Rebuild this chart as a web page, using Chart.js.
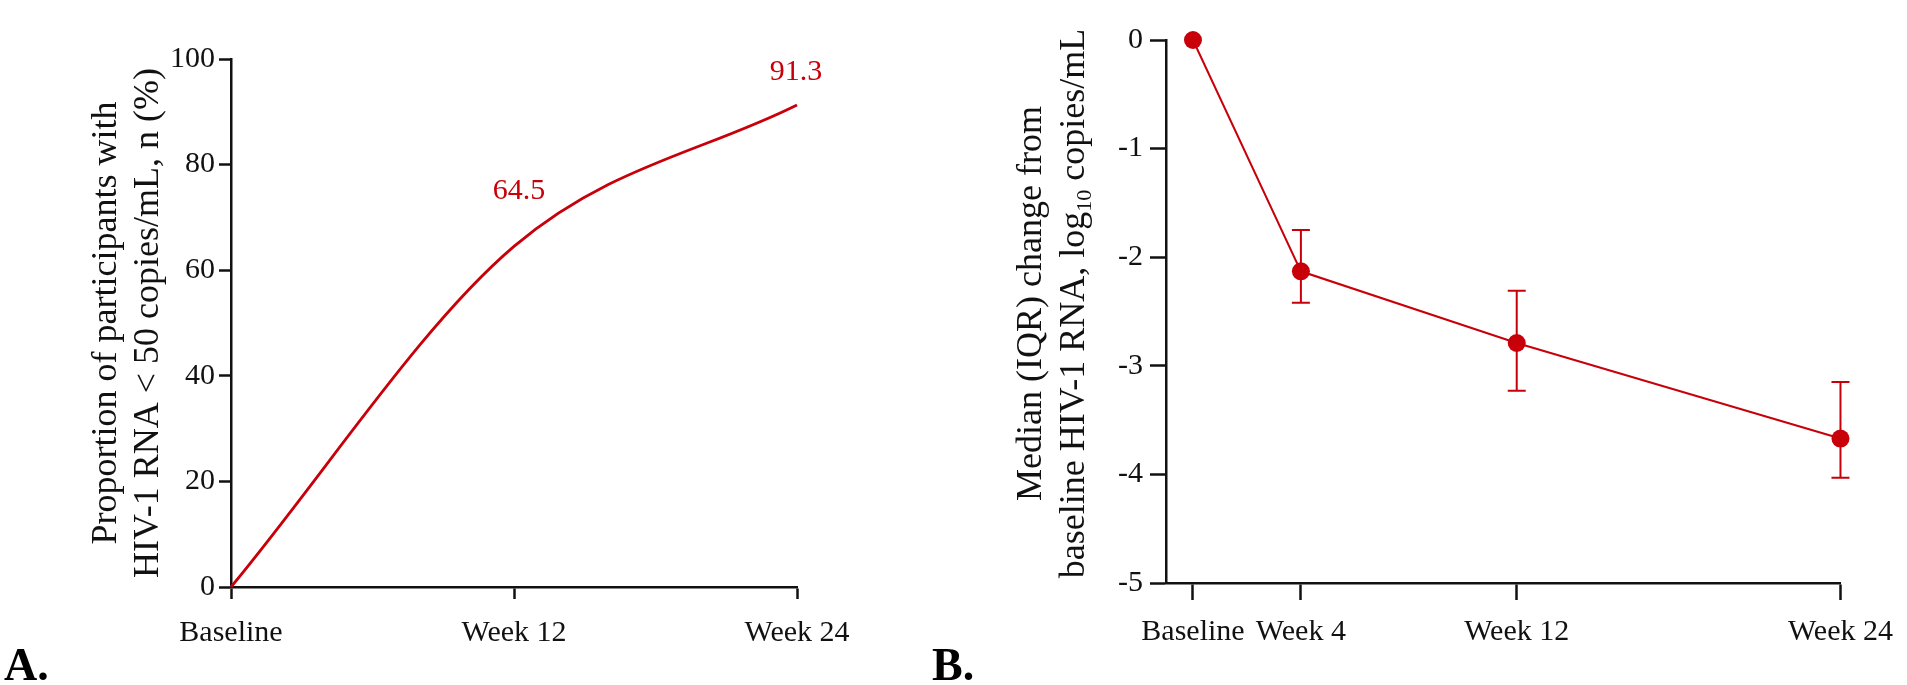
<!DOCTYPE html>
<html>
<head>
<meta charset="utf-8">
<script src="https://cdn.jsdelivr.net/npm/chart.js@4.4.1/dist/chart.umd.min.js"></script>
<style>
  html, body { margin: 0; padding: 0; background: #fff; }
  body { width: 1907px; height: 685px; position: relative; overflow: hidden; }
  .panel { position: absolute; top: 0; height: 685px; }
  #panelA { left: 0; width: 900px; }
  #panelB { left: 900px; width: 1007px; }
</style>
</head>
<body>
<div class="panel" id="panelA"><canvas id="chartA"></canvas></div>
<div class="panel" id="panelB"><canvas id="chartB"></canvas></div>
<script>
// A: proportion with HIV-1 RNA < 50 copies/mL
const weeksA = [0, 12, 24];
const weekLabelsA = ['Baseline', 'Week 12', 'Week 24'];
const suppressedPct = [0, 64.5, 91.3];
const yTicksA = [0, 20, 40, 60, 80, 100];

// B: median (IQR) change from baseline, log10 copies/mL
const weeksB = [0, 4, 12, 24];
const weekLabelsB = ['Baseline', 'Week 4', 'Week 12', 'Week 24'];
const medianChange = [0, -2.13, -2.79, -3.67];
const iqrLow = [0, -2.42, -3.23, -4.03];
const iqrHigh = [0, -1.75, -2.31, -3.15];
const yTicksB = [-5, -4, -3, -2, -1, 0];

const RED = '#c8000a';
const INK = '#111';
const SERIF = "'Liberation Serif', 'Times New Roman', serif";

// rotated two-line y title, with optional subscript parts
const yTitlePlugin = {
  id: 'yTitle',
  afterDraw(chart, args, opts) {
    const { ctx, chartArea } = chart;
    const cy = (chartArea.top + chartArea.bottom) / 2 + (opts.dy || 0);
    const big = `${opts.size}px ${SERIF}`;
    const small = `${Math.round(opts.size * 0.62)}px ${SERIF}`;
    ctx.save();
    ctx.fillStyle = INK;
    ctx.textBaseline = 'alphabetic';
    ctx.textAlign = 'left';
    opts.lines.forEach((parts, i) => {
      let total = 0;
      parts.forEach(p => { ctx.font = p.sub ? small : big; total += ctx.measureText(p.text).width; });
      ctx.save();
      ctx.translate(opts.x[i], cy);
      ctx.rotate(-Math.PI / 2);
      let x = -total / 2;
      parts.forEach(p => {
        ctx.font = p.sub ? small : big;
        ctx.fillText(p.text, x, p.sub ? opts.size * 0.2 : 0);
        x += ctx.measureText(p.text).width;
      });
      ctx.restore();
    });
    ctx.restore();
  }
};

const panelLetter = {
  id: 'panelLetter',
  afterDraw(chart, args, opts) {
    const { ctx } = chart;
    ctx.save();
    ctx.font = `bold 46px ${SERIF}`;
    ctx.fillStyle = '#000';
    ctx.textBaseline = 'alphabetic';
    ctx.fillText(opts.text, opts.x, opts.y);
    ctx.restore();
  }
};

const valueLabels = {
  id: 'valueLabels',
  afterDatasetsDraw(chart, args, opts) {
    if (!opts.offsets) return;
    const { ctx } = chart;
    const meta = chart.getDatasetMeta(0);
    ctx.save();
    ctx.font = `30px ${SERIF}`;
    ctx.fillStyle = RED;
    ctx.textAlign = 'center';
    ctx.textBaseline = 'middle';
    meta.data.forEach((pt, i) => {
      const off = opts.offsets[i];
      if (!off) return;
      ctx.fillText(String(chart.data.datasets[0].data[i].y), pt.x + off[0], pt.y + off[1]);
    });
    ctx.restore();
  }
};

const errorBars = {
  id: 'errorBars',
  beforeDatasetsDraw(chart, args, opts) {
    if (!opts.low) return;
    const { ctx } = chart;
    const xs = chart.scales.x, ys = chart.scales.y;
    ctx.save();
    ctx.strokeStyle = RED;
    ctx.lineWidth = 2;
    opts.weeks.forEach((w, i) => {
      if (opts.low[i] === opts.high[i]) return;
      const px = xs.getPixelForValue(w);
      const top = ys.getPixelForValue(opts.high[i]);
      const bot = ys.getPixelForValue(opts.low[i]);
      ctx.beginPath();
      ctx.moveTo(px, top); ctx.lineTo(px, bot);
      ctx.moveTo(px - opts.cap, top); ctx.lineTo(px + opts.cap, top);
      ctx.moveTo(px - opts.cap, bot); ctx.lineTo(px + opts.cap, bot);
      ctx.stroke();
    });
    ctx.restore();
  }
};

function xAxis(min, max, weeks, labels, tickLen, pad, height) {
  return {
    type: 'linear', min, max,
    afterBuildTicks: s => { s.ticks = weeks.map(v => ({ value: v })); },
    afterFit: s => { s.height = height; },
    grid: { drawOnChartArea: false, drawTicks: true, tickLength: tickLen, tickWidth: 2.5, tickColor: INK },
    border: { display: true, color: INK, width: 2.5 },
    ticks: {
      autoSkip: false, maxRotation: 0, padding: pad, color: INK,
      font: { family: SERIF, size: 30 },
      callback: v => labels[weeks.indexOf(v)] ?? ''
    }
  };
}

function yAxis(min, max, values, tickLen, pad, width) {
  return {
    type: 'linear', min, max,
    afterBuildTicks: s => { s.ticks = values.map(v => ({ value: v })); },
    afterFit: s => { s.width = width; },
    grid: { drawOnChartArea: false, drawTicks: true, tickLength: tickLen, tickWidth: 2.5, tickColor: INK },
    border: { display: true, color: INK, width: 2.5 },
    ticks: { padding: pad, color: INK, font: { family: SERIF, size: 30 }, callback: v => String(v) }
  };
}

new Chart(document.getElementById('chartA'), {
  type: 'line',
  data: {
    datasets: [{
      data: weeksA.map((w, i) => ({ x: w, y: suppressedPct[i] })),
      borderColor: RED,
      borderWidth: 2.8,
      pointRadius: 0,
      cubicInterpolationMode: 'monotone',
      fill: false,
      clip: false
    }]
  },
  options: {
    responsive: true,
    maintainAspectRatio: false,
    animation: false,
    layout: { padding: { left: 0, top: 59, right: 103, bottom: 0 } },
    scales: {
      x: xAxis(0, 24, weeksA, weekLabelsA, 12, 16, 98),
      y: yAxis(0, 100, yTicksA, 12, 4, 231)
    },
    plugins: {
      legend: { display: false },
      tooltip: { enabled: false },
      yTitle: {
        size: 36, x: [116, 158],
        lines: [
          [{ text: 'Proportion of participants with' }],
          [{ text: 'HIV-1 RNA < 50 copies/mL, n (%)' }]
        ]
      },
      panelLetter: { text: 'A.', x: 4, y: 680 },
      valueLabels: { offsets: [null, [5, -55], [-1, -33]] }
    }
  },
  plugins: [yTitlePlugin, panelLetter, valueLabels]
});

new Chart(document.getElementById('chartB'), {
  type: 'line',
  data: {
    datasets: [{
      data: weeksB.map((w, i) => ({ x: w, y: medianChange[i] })),
      borderColor: RED,
      borderWidth: 2,
      pointRadius: 9,
      pointBackgroundColor: RED,
      pointBorderColor: RED,
      pointBorderWidth: 0,
      tension: 0,
      fill: false,
      clip: false
    }]
  },
  options: {
    responsive: true,
    maintainAspectRatio: false,
    animation: false,
    layout: { padding: { left: 0, top: 40, right: 61, bottom: 0 } },
    scales: {
      x: xAxis(-1, 24, weeksB, weekLabelsB, 17, 14, 102),
      y: yAxis(-5, 0, yTicksB, 16, 7, 266)
    },
    plugins: {
      legend: { display: false },
      tooltip: { enabled: false },
      yTitle: {
        size: 36, x: [141, 184], dy: -8,
        lines: [
          [{ text: 'Median (IQR) change from' }],
          [{ text: 'baseline HIV-1 RNA, log' }, { text: '10', sub: true }, { text: ' copies/mL' }]
        ]
      },
      panelLetter: { text: 'B.', x: 32, y: 680 },
      errorBars: { weeks: weeksB, low: iqrLow, high: iqrHigh, cap: 9 }
    }
  },
  plugins: [yTitlePlugin, panelLetter, errorBars]
});
</script>
</body>
</html>
